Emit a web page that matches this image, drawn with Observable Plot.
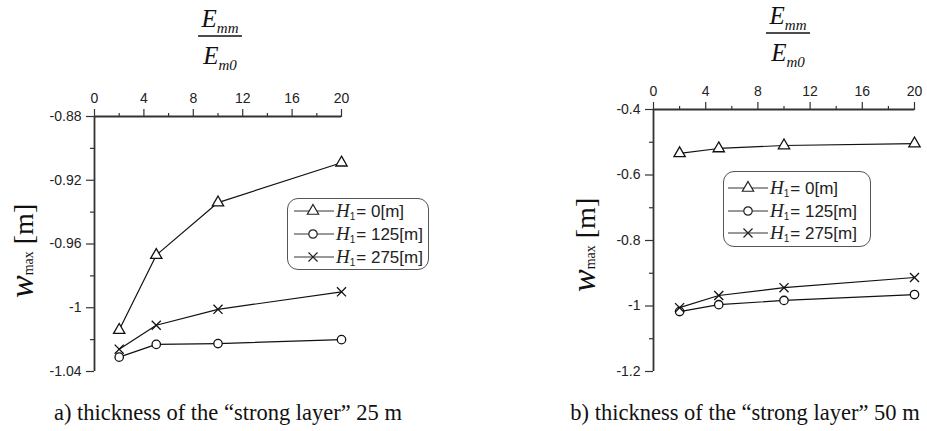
<!DOCTYPE html>
<html>
<head>
<meta charset="utf-8">
<script src="https://cdn.jsdelivr.net/npm/d3@7"></script>
<script src="https://cdn.jsdelivr.net/npm/@observablehq/plot@0.6"></script>
<style>
  html, body { margin: 0; padding: 0; background: #fff; }
  #wrap { position: relative; width: 927px; height: 431px; overflow: hidden; }
  .legend { position: absolute; border: 1px solid #555; border-radius: 11px; background: #fff; box-sizing: border-box; }
  .row { position: absolute; height: 22px; display: flex; align-items: center; white-space: nowrap;
         font-family: "Liberation Sans", Arial, sans-serif; font-size: 17px; color: #222; }
  .row svg { display: block; }
  .row i { font-family: "Liberation Serif", "Times New Roman", serif; font-size: 19px; }
  .row sub { font-size: 10px; vertical-align: -3px; margin-right: 1px; }
</style>
</head>
<body>
<div id="wrap"></div>
<script>
// ---------- data ----------
const ratios = [2, 5, 10, 20];                 // E_mm / E_m0
const seriesNames = ["0", "125", "275"];       // H1 [m]
// panel a) strong layer 25 m
const a_H0   = [-1.014, -0.967, -0.934, -0.909];
const a_H125 = [-1.031, -1.023, -1.0225, -1.020];
const a_H275 = [-1.026, -1.011, -1.001, -0.990];
// panel b) strong layer 50 m
const b_H0   = [-0.534, -0.519, -0.510, -0.504];
const b_H125 = [-1.017, -0.996, -0.983, -0.965];
const b_H275 = [-1.005, -0.968, -0.944, -0.913];
// ticks
const xMajor = [0, 4, 8, 12, 16, 20];
const xMinor = [2, 6, 10, 14, 18];
const aYMajor = [-0.88, -0.92, -0.96, -1, -1.04];
const aYMinor = [-0.90, -0.94, -0.98, -1.02];
const bYMajor = [-0.4, -0.6, -0.8, -1, -1.2];
const bYMinor = [-0.5, -0.7, -0.9, -1.1];
const captions = ["a) thickness of the \u201Cstrong layer\u201D 25 m", "b) thickness of the \u201Cstrong layer\u201D 50 m"];

function table(s0, s125, s275) {
  const rows = [];
  [[seriesNames[0], s0], [seriesNames[1], s125], [seriesNames[2], s275]].forEach(([name, vals]) => {
    ratios.forEach((x, i) => rows.push({series: name, x, y: vals[i]}));
  });
  return rows;
}
const dataA = table(a_H0, a_H125, a_H275);
const dataB = table(b_H0, b_H125, b_H275);

const symbolScale = {domain: seriesNames, range: ["triangle", "circle", "times"]};
const axisColor = "#333";
const tickFont = "'Liberation Sans', Arial, sans-serif";

function panel(data, yDomain, yMajor, yMinor, m) {
  return Plot.plot({
    width: m.width, height: m.height,
    marginTop: m.top, marginLeft: m.left, marginRight: m.right, marginBottom: m.bottom,
    x: {domain: [0, 20]},
    y: {domain: yDomain},
    symbol: symbolScale,
    style: {fontFamily: tickFont, fontSize: "14px", color: "#222", background: "transparent", overflow: "visible"},
    marks: [
      Plot.axisX({anchor: "top", ticks: xMajor, tickSize: 8, tickPadding: 6, fontSize: 14, fill: "#222", stroke: axisColor, strokeWidth: 1.2, label: null, tickFormat: d => String(d)}),
      Plot.axisX({anchor: "top", ticks: xMinor, tickSize: 4, stroke: axisColor, strokeWidth: 1.2, label: null, tickFormat: () => ""}),
      Plot.axisY({anchor: "left", ticks: yMajor, tickSize: 8, tickPadding: 5, fontSize: 14, fill: "#222", stroke: axisColor, strokeWidth: 1.2, label: null, tickFormat: d => String(d)}),
      Plot.axisY({anchor: "left", ticks: yMinor, tickSize: 4, stroke: axisColor, strokeWidth: 1.2, label: null, tickFormat: () => ""}),
      Plot.ruleX([0], {stroke: axisColor, strokeWidth: 1.8}),
      Plot.ruleY([yDomain[1]], {stroke: axisColor, strokeWidth: 1.8}),
      Plot.line(data, {x: "x", y: "y", z: "series", stroke: "#111", strokeWidth: 1.2}),
      Plot.dot(data, {x: "x", y: "y", symbol: "series", r: 4.2, stroke: "#111", strokeWidth: 1.3, fill: "white"})
    ]
  });
}

const wrap = document.getElementById("wrap");
const pA = panel(dataA, [-1.04, -0.88], aYMajor, aYMinor, {width: 460, height: 380, top: 116, left: 94, right: 119, bottom: 9});
pA.style.left = "0px"; pA.style.top = "0px"; pA.style.position = "absolute";
wrap.appendChild(pA);
const pB = panel(dataB, [-1.2, -0.4], bYMajor, bYMinor, {width: 447, height: 380, top: 109, left: 173, right: 13, bottom: 9});
pB.style.left = "480px"; pB.style.top = "0px"; pB.style.position = "absolute";
wrap.appendChild(pB);

// ---------- text overlay (titles, y labels, captions) ----------
const NS = "http://www.w3.org/2000/svg";
const ov = document.createElementNS(NS, "svg");
ov.setAttribute("width", 927); ov.setAttribute("height", 431);
ov.style.position = "absolute"; ov.style.left = "0"; ov.style.top = "0"; ov.style.pointerEvents = "none";
wrap.appendChild(ov);
const serif = "'Liberation Serif', 'Times New Roman', serif";

function fraction(cx, lineY, halfW) {
  const g = d3.select(ov).append("g").attr("font-family", serif).attr("font-style", "italic").attr("fill", "#111");
  const num = g.append("text").attr("x", cx).attr("y", lineY - 9).attr("text-anchor", "middle");
  num.append("tspan").attr("font-size", 25).text("E");
  num.append("tspan").attr("font-size", 15).attr("dy", 6).text("mm");
  const den = g.append("text").attr("x", cx).attr("y", lineY + 28).attr("text-anchor", "middle");
  den.append("tspan").attr("font-size", 25).text("E");
  den.append("tspan").attr("font-size", 15).attr("dy", 6).text("m0");
  g.append("line").attr("x1", cx - halfW).attr("x2", cx + halfW).attr("y1", lineY).attr("y2", lineY)
    .attr("stroke", "#111").attr("stroke-width", 1.3);
}
fraction(220, 36, 22);
fraction(788, 33, 22);

function ylabel(x, y) {
  const t = d3.select(ov).append("text").attr("transform", `translate(${x},${y}) rotate(-90)`)
    .attr("font-family", serif).attr("fill", "#111");
  t.append("tspan").attr("font-size", 34).attr("font-style", "italic").text("w");
  t.append("tspan").attr("font-size", 14).text("max");
  t.append("tspan").attr("font-size", 28).text(" [m]");
}
ylabel(33, 298);
ylabel(595, 292);

d3.select(ov).selectAll("text.cap").data([[228, captions[0]], [745, captions[1]]]).join("text")
  .attr("class", "cap").attr("x", d => d[0]).attr("y", 420).attr("text-anchor", "middle")
  .attr("font-family", serif).attr("font-size", 22.5).attr("fill", "#111").text(d => d[1]);

// ---------- legends ----------
const symbolPaths = {
  triangle: d3.symbol(d3.symbolTriangle, Math.PI * 4.2 * 4.2)(),
  circle: d3.symbol(d3.symbolCircle, Math.PI * 4.2 * 4.2)(),
  times: d3.symbol(d3.symbolTimes, Math.PI * 4.2 * 4.2)()
};
function legend(box, rows, lineW, markX) {
  const lg = document.createElement("div");
  lg.className = "legend";
  Object.assign(lg.style, {left: box.x + "px", top: box.y + "px", width: box.w + "px", height: box.h + "px"});
  wrap.appendChild(lg);
  seriesNames.forEach((name, i) => {
    const r = document.createElement("div");
    r.className = "row";
    r.style.left = (rows.x - box.x - 1) + "px";
    r.style.top = (rows.y[i] - box.y - 1 - 11) + "px";
    const sym = symbolScale.range[i];
    r.innerHTML = `<svg width="${lineW + 2}" height="22"><line x1="0" x2="${lineW}" y1="11" y2="11" stroke="#333" stroke-width="1"/>` +
      `<path transform="translate(${markX},11)" d="${symbolPaths[sym]}" fill="white" stroke="#222" stroke-width="1.2"/></svg>` +
      `<span><i>H</i><sub>1</sub>= ${name}[m]</span>`;
    lg.appendChild(r);
  });
}
legend({x: 287, y: 198, w: 142, h: 72}, {x: 294, y: [211, 234, 257]}, 40, 19);
legend({x: 723, y: 171, w: 148, h: 76}, {x: 728, y: [188, 211, 233]}, 40, 20);
</script>
</body>
</html>
